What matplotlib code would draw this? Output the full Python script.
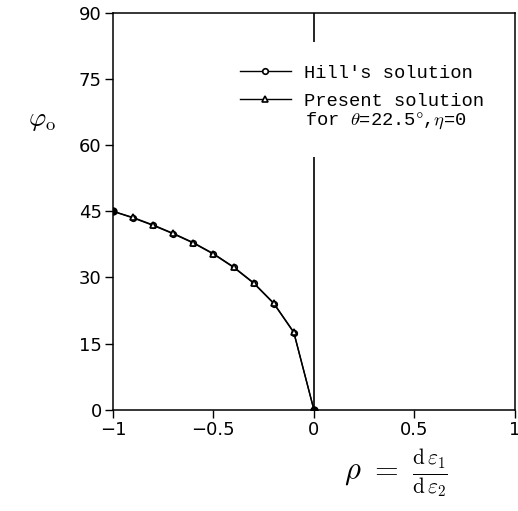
import numpy as np
import matplotlib
matplotlib.use('Agg')
import matplotlib.pyplot as plt

# data
rho = [-1.0, -0.9, -0.8, -0.7, -0.6, -0.5, -0.4, -0.3, -0.2, -0.1, 0.0]
phi_hill = [45.0, 43.5, 41.8, 39.9, 37.8, 35.3, 32.3, 28.7, 24.1, 17.5, 0.0]
phi_present = [45.0, 43.6, 41.9, 40.0, 37.9, 35.4, 32.4, 28.8, 24.2, 17.6, 0.0]
x_ticks = [-1, -0.5, 0, 0.5, 1]
x_ticklabels = ['\u22121', '\u22120.5', '0', '0.5', '1']
y_ticks = [0, 15, 30, 45, 60, 75, 90]

plt.rcParams['font.family'] = 'DejaVu Sans'
plt.rcParams['mathtext.fontset'] = 'cm'

fig = plt.figure(figsize=(5.18, 5.11), dpi=100)
ax = fig.add_axes([0.218, 0.198, 0.776, 0.777])

# vertical line at rho = 0, broken where the legend sits
ax.vlines(0, 0, 57.4, color='black', lw=1.2, zorder=1)
ax.vlines(0, 83.4, 90, color='black', lw=1.2, zorder=1)

ax.plot(rho, phi_hill, color='black', lw=1.0, marker='o', ms=4,
        mfc='white', mec='black', mew=1.2, label="Hill's solution", zorder=3)
ax.plot(rho, phi_present, color='black', lw=1.0, marker='^', ms=4,
        mfc='white', mec='black', mew=1.2, label='Present solution', zorder=4)
# filled end points
ax.plot([rho[0], rho[-1]], [phi_hill[0], phi_hill[-1]], 'o', color='black', ms=5, zorder=5)

ax.set_xlim(-1, 1)
ax.set_ylim(0, 90)
ax.set_xticks(x_ticks)
ax.set_xticklabels(x_ticklabels)
ax.set_yticks(y_ticks)
ax.tick_params(direction='out', length=6, width=1, labelsize=13, pad=2)
for s in ax.spines.values():
    s.set_linewidth(1.1)

leg_font = {'family': 'Liberation Mono', 'size': 13.5}
leg = ax.legend(loc='upper left', bbox_to_anchor=(0.316, 0.87), frameon=False,
                prop=leg_font, handlelength=2.7, handletextpad=0.7,
                labelspacing=0.6, borderaxespad=0, borderpad=0)
ax.text(0.478, 0.728, 'for $\\theta$=22.5$\\degree$,$\\eta$=0', transform=ax.transAxes,
        fontsize=13.5, family='Liberation Mono', ha='left', va='center')

fig.text(0.055, 0.765, r'$\varphi_{\rm o}$', fontsize=19, ha='left', va='center')
fig.text(0.665, 0.075, r'$\rho\ =\ \frac{\mathrm{d}\,\varepsilon_1}{\mathrm{d}\,\varepsilon_2}$',
         fontsize=22, ha='left', va='center')

fig.savefig('out.png', dpi=100)
